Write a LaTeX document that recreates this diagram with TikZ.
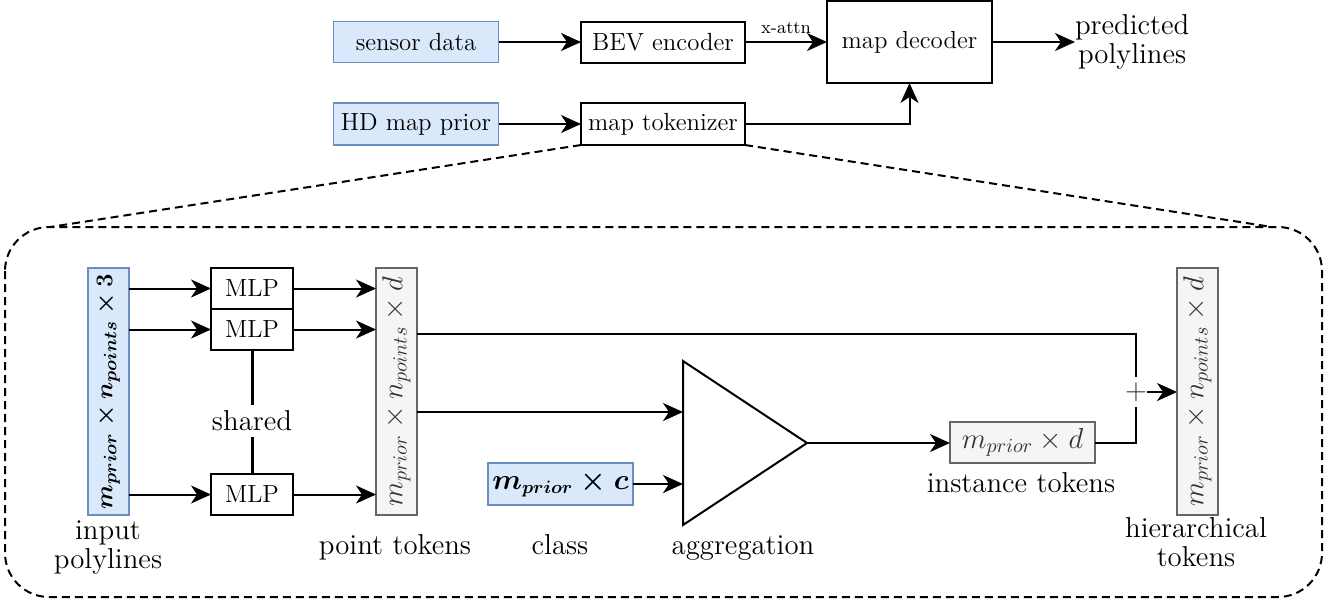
\documentclass[tikz,border=0pt]{standalone}
\usepackage{amsmath}
\usepackage{graphicx}
\usetikzlibrary{arrows.meta,calc}

\definecolor{blueFill}{HTML}{DAE8FC}
\definecolor{blueLine}{HTML}{6C8EBF}
\definecolor{grayFill}{HTML}{F5F5F5}
\definecolor{grayLine}{HTML}{666666}
\definecolor{grayText}{HTML}{333333}

\begin{document}
\begin{tikzpicture}[x=0.5pt,y=-0.5pt,
  every node/.style={inner sep=0pt, outer sep=0pt},
  box/.style={draw=black, line width=1pt, fill=white,
    font=\fontsize{12.4}{14}\selectfont, minimum height=20.5pt},
  inbox/.style={draw=blueLine, fill=blueFill, line width=0.9pt,
    font=\fontsize{13.3}{14.5}\selectfont\boldmath},
  tokbox/.style={draw=grayLine, fill=grayFill, line width=0.9pt, text=grayText,
    font=\fontsize{14.4}{14.5}\selectfont},
  vbar/.style={minimum width=20.5pt, minimum height=123.5pt},
  hbar/.style={minimum width=72.5pt, minimum height=20.5pt},
  lbl/.style={font=\fontsize{14.4}{14.5}\selectfont, align=center},
  flow/.style={-{Stealth[length=10pt,width=9pt,inset=3pt]}, line width=1pt},
  wire/.style={line width=1pt},
  dashline/.style={line width=1pt, dash pattern=on 4pt off 2.5pt},
]
\useasboundingbox (0,0) rectangle (1330,602);

% ---------- top-level pipeline ----------
\node[box, inbox, font=\fontsize{12.4}{14}\selectfont, minimum width=82.5pt] (sensor) at (416,42) {sensor data};
\node[box, minimum width=82pt] (bev) at (663,42) {BEV encoder};
\node[box, inbox, font=\fontsize{12.4}{14}\selectfont, minimum width=82.5pt, minimum height=21pt] (hdmap) at (416,124) {HD map prior};
\node[box, minimum width=82pt, minimum height=21pt] (tok) at (663,124) {map tokenizer};
\node[box, minimum width=82.5pt, minimum height=41pt] (dec) at (909.5,42) {map decoder};
\node[lbl, anchor=west] (pred) at (1075,42) {predicted\\polylines};

\draw[flow] (sensor.east) -- (bev.west);
\draw[flow] (hdmap.east) -- (tok.west);
\draw[flow] (bev.east) -- node[above=4pt, font=\fontsize{9}{10}\selectfont] {x-attn} (dec.west);
\draw[flow] (dec.east) -- (pred.west);
\draw[flow] (tok.east) -| (dec.south);

% ---------- tokenizer detail ----------
\draw[dashline, rounded corners=22pt] (5,227) rectangle (1322,597);
\draw[dashline] (tok.south west) -- (50,227);
\draw[dashline] (tok.south east) -- (1272,227);

\node[inbox, vbar, font=\fontsize{12.7}{14.5}\selectfont\boldmath] (in) at (108.5,391.5)
  {\rotatebox{90}{$m_{prior}\times n_{points}\times 3$}};
\node[box, minimum width=41pt] (m1) at (252,288.5) {MLP};
\node[box, minimum width=41pt] (m2) at (252,329.5) {MLP};
\node[box, minimum width=41pt] (m3) at (252,494.5) {MLP};
\node[tokbox, vbar] (pt) at (396.5,391.5)
  {\rotatebox{90}{$m_{prior}\times n_{points}\times d$}};
\node[lbl, text height=10pt, text depth=0pt] (shared) at (252,420) {shared};

\draw[line width=1.5pt] (m2.south) -- ($(shared.north)+(0,-5)$);
\draw[line width=1.5pt] ($(shared.south)+(0,7)$) -- (m3.north);

\draw[flow] (in.east |- m1) -- (m1.west);
\draw[flow] (in.east |- m2) -- (m2.west);
\draw[flow] (in.east |- m3) -- (m3.west);
\draw[flow] (m1.east) -- (m1.east -| pt.west);
\draw[flow] (m2.east) -- (m2.east -| pt.west);
\draw[flow] (m3.east) -- (m3.east -| pt.west);

% aggregation block
\coordinate (aggA) at (683,361);
\coordinate (aggB) at (683,525);
\coordinate (aggC) at (807,443);
\coordinate (aggIn1) at (683,412);
\draw[line width=1pt, line join=miter, fill=white] (aggA) -- (aggC) -- (aggB) -- cycle;

\node[inbox, hbar, minimum height=21pt] (class) at (560.5,484) {$m_{prior}\times c$};
\node[tokbox, hbar] (inst) at (1022.5,442.5) {$m_{prior}\times d$};
\node[tokbox, vbar] (hier) at (1197.5,391.5)
  {\rotatebox{90}{$m_{prior}\times n_{points}\times d$}};
\node[font=\fontsize{14.4}{14.5}\selectfont, text=black!80, fill=white,
  minimum height=15pt] (plus) at (1136,392) {$+$};

\draw[flow] (pt.east |- aggIn1) -- (aggIn1);
\draw[flow] (class.east) -- (class.east -| aggIn1);
\draw[flow] (aggC) -- (aggC -| inst.west);
\draw[wire] ($(pt.east)+(0,-57.5)$) -| (plus.north);
\draw[wire] (inst.east) -| (plus.south);
\draw[flow] (plus.east) -- (plus.east -| hier.west);

% captions
\node[lbl, anchor=north] (capIn) at (108,521) {input\\polylines};
\node[lbl, anchor=base] (capPt) at (395,554) {point tokens};
\node[lbl, anchor=base] (capClass) at (560,554) {class};
\node[lbl, anchor=base] (capAgg) at (743,554) {aggregation};
\node[lbl, anchor=base] (capInst) at (1021,492) {instance tokens};
\node[lbl, anchor=north] (capHier) at (1196,517) {hierarchical\\tokens};
\end{tikzpicture}
\end{document}
